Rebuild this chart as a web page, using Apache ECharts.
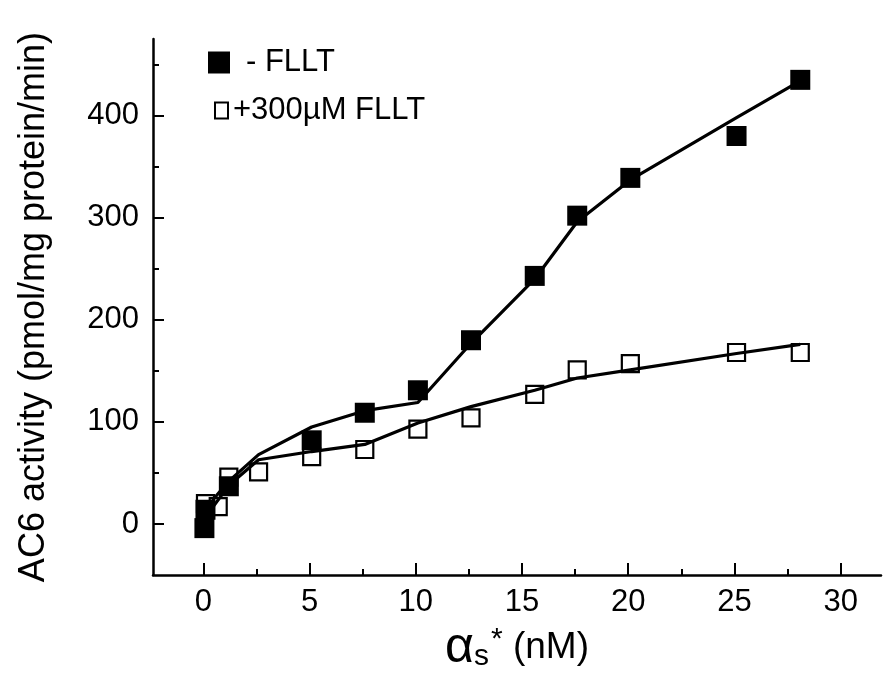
<!DOCTYPE html>
<html>
<head>
<meta charset="utf-8">
<script src="https://cdn.jsdelivr.net/npm/echarts@6/dist/echarts.min.js"></script>
<style>
html,body{margin:0;padding:0;background:#fff;}
#c{width:888px;height:678px;}
</style>
</head>
<body>
<div id="c"></div>
<script>
// Data
var filledX = [0.05, 0.1, 1.2, 5.1, 7.6, 10.1, 12.6, 15.6, 17.6, 20.1, 25.1, 28.1];
var filledY = [-4, 14, 37, 82, 109, 131, 180, 243, 302, 339, 380, 435];
var openX = [0.1, 0.7, 1.2, 2.6, 5.1, 7.6, 10.1, 12.6, 15.6, 17.6, 20.1, 25.1, 28.1];
var openY = [20, 17, 46, 51, 66, 73, 93, 104, 127, 151, 157, 168, 168];
var filledFitX = [0, 0.5, 1.2, 2.6, 5.1, 7.6, 10.1, 12.6, 15.6, 17.6, 20.1, 25.1, 28.1];
var filledFitY = [5, 25, 42, 68, 95, 111, 119, 177, 240, 296, 337, 398, 434];
var openFitX = [0, 0.5, 1.2, 2.6, 5.1, 7.6, 10.1, 12.6, 15.6, 17.6, 20.1, 25.1, 28.1];
var openFitY = [8, 18, 38, 63, 71, 78, 99, 115, 131, 143, 151, 167, 176];
var xMajorTicks = [0, 5, 10, 15, 20, 25, 30];
var xMinorTicks = [2.5, 7.5, 12.5, 17.5, 22.5, 27.5];
var yMajorTicks = [0, 100, 200, 300, 400];
var yMinorTicks = [50, 150, 250, 350, 450];
var seriesNames = ['- FLLT', '+300\u00b5M FLLT'];

function pairs(xs, ys){ return xs.map(function(x,i){ return [x, ys[i]]; }); }

var FONT = 'Liberation Sans';
var X_MIN = -2.37, X_MAX = 31.9, Y_MIN = -50, Y_MAX = 475;

var chart = echarts.init(document.getElementById('c'), null, {renderer:'canvas'});
chart.setOption({
  backgroundColor: '#fff',
  animation: false,
  textStyle: {fontFamily: FONT, color: '#000'},
  grid: {left: 153, top: 39, width: 728, height: 538, containLabel: false},
  legend: [
    {
      data: [seriesNames[0]], left: 203, top: 42, itemWidth: 22, itemHeight: 22,
      icon: 'rect', selectedMode: false,
      formatter: '{t|{name}}',
      textStyle: {rich: {t: {fontFamily: FONT, fontSize: 31, color: '#000', padding: [0,0,0,11]}}}
    },
    {
      data: [seriesNames[1]], left: 209, top: 90, itemWidth: 13, itemHeight: 16,
      icon: 'rect', selectedMode: false,
      formatter: '{t|{name}}',
      textStyle: {rich: {t: {fontFamily: FONT, fontSize: 31, color: '#000', padding: [0,0,0,0]}}}
    }
  ],
  xAxis: [
    {
      type: 'value', min: X_MIN, max: X_MAX, position: 'bottom',
      name: '{a|\u03b1}{s|s}{p|*}{n| (nM)}', nameLocation: 'middle', nameGap: 46,
      nameTextStyle: {rich: {
        a: {fontFamily: FONT, fontSize: 50, color: '#000'},
        s: {fontFamily: FONT, fontSize: 30, color: '#000', padding: [18,0,0,0]},
        p: {fontFamily: FONT, fontSize: 30, color: '#000', padding: [0,0,16,2]},
        n: {fontFamily: FONT, fontSize: 37, color: '#000'}
      }},
      splitLine: {show: false},
      axisLine: {show: true, onZero: false, lineStyle: {color: '#000', width: 2.5}},
      axisTick: {show: true, inside: true, length: 12, customValues: xMajorTicks, lineStyle: {color: '#000', width: 2}},
      axisLabel: {customValues: xMajorTicks, fontFamily: FONT, fontSize: 31, color: '#000', margin: 12}
    },
    {
      type: 'value', min: X_MIN, max: X_MAX, position: 'bottom',
      splitLine: {show: false},
      axisLine: {show: false, onZero: false},
      axisTick: {show: true, inside: true, length: 6, customValues: xMinorTicks, lineStyle: {color: '#000', width: 2}},
      axisLabel: {show: false}
    }
  ],
  yAxis: [
    {
      type: 'value', min: Y_MIN, max: Y_MAX, position: 'left',
      name: 'AC6 activity (pmol/mg protein/min)', nameLocation: 'middle', nameGap: 101,
      nameTextStyle: {fontFamily: FONT, fontSize: 36, color: '#000'},
      splitLine: {show: false},
      axisLine: {show: true, onZero: false, lineStyle: {color: '#000', width: 2.5}},
      axisTick: {show: true, inside: true, length: 11, customValues: yMajorTicks, lineStyle: {color: '#000', width: 2}},
      axisLabel: {customValues: yMajorTicks, fontFamily: FONT, fontSize: 31, color: '#000', margin: 14}
    },
    {
      type: 'value', min: Y_MIN, max: Y_MAX, position: 'left',
      splitLine: {show: false},
      axisLine: {show: false, onZero: false},
      axisTick: {show: true, inside: true, length: 6, customValues: yMinorTicks, lineStyle: {color: '#000', width: 2}},
      axisLabel: {show: false}
    }
  ],
  series: [
    {
      name: seriesNames[1], type: 'scatter', symbol: 'rect', symbolSize: [17, 17], z: 2,
      itemStyle: {color: '#fff', borderColor: '#000', borderWidth: 2.2, opacity: 1},
      data: pairs(openX, openY)
    },
    {
      name: seriesNames[0], type: 'scatter', symbol: 'rect', symbolSize: 20, z: 3,
      itemStyle: {color: '#000', opacity: 1},
      data: pairs(filledX, filledY)
    },
    {
      name: 'fit1', type: 'line', showSymbol: false, symbol: 'none', z: 4, silent: true,
      lineStyle: {color: '#000', width: 3.2},
      data: pairs(filledFitX, filledFitY)
    },
    {
      name: 'fit2', type: 'line', showSymbol: false, symbol: 'none', z: 4, silent: true,
      lineStyle: {color: '#000', width: 3.2},
      data: pairs(openFitX, openFitY)
    }
  ]
});
</script>
</body>
</html>
